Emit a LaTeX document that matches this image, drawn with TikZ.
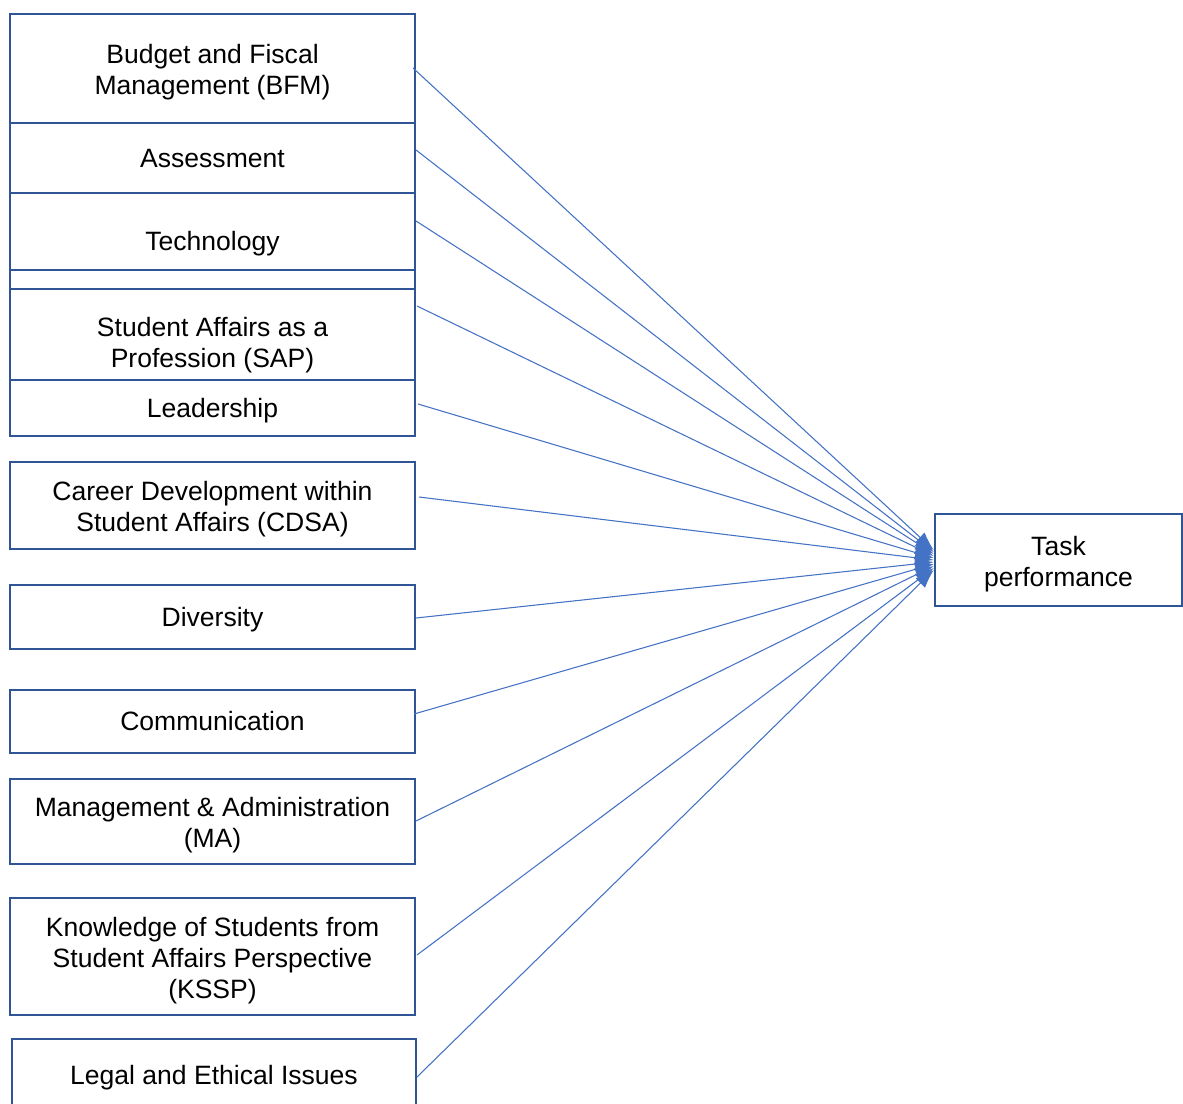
\documentclass[tikz,border=0pt]{standalone}
\usepackage{fontspec}
\setmainfont{Liberation Sans}
\usetikzlibrary{arrows.meta}
\definecolor{boxblue}{HTML}{2F5597}
\definecolor{lineblue}{HTML}{4472C4}
\newcommand\firstline{\rule{0pt}{20.5pt}}
\tikzset{
  emptybox/.style={draw=boxblue, line width=1.9pt, fill=white, rectangle, inner sep=0pt,
    minimum width=303.75pt},
  box/.style={emptybox, align=center, font=\fontsize{19.9}{23.2}\selectfont},
  onebox/.style={emptybox, font=\fontsize{19.9}{23.2}\selectfont, text height=18pt, text depth=4.2pt},
  txt/.style={align=center, inner sep=0pt, font=\fontsize{19.9}{23.2}\selectfont},
  conn/.style={draw=lineblue, line width=0.8pt, -{Latex[length=14pt,width=10pt]}}
}
\begin{document}
\begin{tikzpicture}[x=0.75pt,y=-0.75pt]
\useasboundingbox (0,0) rectangle (1183,1104);
% boxes
\node[box, minimum height=81.75pt] (bfm) at (212.5,68.5) {\firstline Budget and Fiscal\\Management (BFM)};
\node[onebox, minimum height=52.5pt] (ass) at (212.5,158) {Assessment};
\node[onebox, minimum height=72pt] (tec) at (212.5,241) {Technology};
\node[emptybox, minimum height=14.25pt] (thin) at (212.5,279.5) {};
\node[emptybox, minimum height=68.25pt] (sapbox) at (212.5,334.5) {};
\node[txt] (sap) at (212.5,341) {\firstline Student Affairs as a\\Profession (SAP)};
\node[onebox, minimum height=42pt] (lea) at (212.5,408) {Leadership};
\node[box, minimum height=65.25pt] (cdsa) at (212.5,505.5) {\firstline Career Development within\\Student Affairs (CDSA)};
\node[onebox, minimum height=48pt] (div) at (212.5,617) {Diversity};
\node[onebox, minimum height=47.25pt] (com) at (212.5,721.5) {Communication};
\node[box, minimum height=63.75pt] (ma) at (212.5,821.5) {\firstline Management \& Administration\\(MA)};
\node[box, minimum height=87.75pt] (kssp) at (212.5,956.5) {\firstline Knowledge of Students from\\Student Affairs Perspective\\(KSSP)};
\node[onebox, minimum height=54pt, minimum width=303pt] (leg) at (214,1075) {Legal and Ethical Issues};
\node[box, minimum height=69pt, minimum width=185.25pt] (task) at (1058.5,560) {\firstline Task\\performance};
% connector start points
\coordinate (s1) at (413,68);
\coordinate (s2) at (416,150);
\coordinate (s3) at (416,221);
\coordinate (s4) at (417,306);
\coordinate (s5) at (418,404);
\coordinate (s6) at (419,497);
\coordinate (s7) at (416,618);
\coordinate (s8) at (414,714);
\coordinate (s9) at (416,821);
\coordinate (s10) at (417,955);
\coordinate (s11) at (417,1077);
% connector end points on the left side of the task box
\foreach \i/\dy in {1/7.5,2/6,3/4.5,4/3,5/1.5,6/0,7/-1.5,8/-3,9/-4.5,10/-6,11/-7.5}{
  \coordinate (e\i) at ([yshift=\dy pt]task.west);
}
\foreach \i in {1,...,11}{
  \draw[conn] (s\i) -- (e\i);
}
\end{tikzpicture}
\end{document}
